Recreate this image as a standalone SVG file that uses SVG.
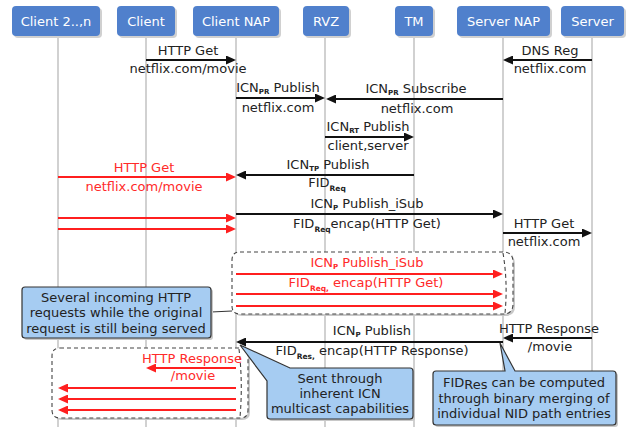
<svg xmlns="http://www.w3.org/2000/svg" width="627" height="427" viewBox="0 0 627 427">
  <defs>
    <style>
      text { font-family: "DejaVu Sans", "Liberation Sans", sans-serif; font-size: 13px; }
      .hd { fill: #5080cc; }
      .hdsh { fill: #d0d0d0; }
      .hdt { fill: #ffffff; text-anchor: middle; }
      .life { stroke: #c6c6c6; stroke-width: 1.6; }
      .lbl { fill: #222222; text-anchor: middle; }
      .rl { fill: #ff2a2a; text-anchor: middle; }
      .msg { stroke: #111111; stroke-width: 2; fill: none; }
      .rmsg { stroke: #ff1f1f; stroke-width: 2; fill: none; }
      .sub { font-size: 7px; font-weight: bold; }
      .sub2 { font-size: 7.5px; font-weight: bold; }
      .note { fill: #a6ccf2; stroke: #333333; stroke-width: 1.2; }
      .nsh { fill: #c8c8c8; }
      .nt { fill: #222222; text-anchor: middle; }
      .grp { fill: #ffffff; stroke: #444444; stroke-width: 1.1; stroke-dasharray: 4 3; }
      .grpin { fill: none; stroke: #444444; stroke-width: 1.1; stroke-dasharray: 4 3; }
    </style>
    <marker id="ah" viewBox="0 0 10 9" refX="8" refY="4.5" markerWidth="10" markerHeight="9" markerUnits="userSpaceOnUse" orient="auto">
      <path d="M0,0 L10,4.5 L0,9 z" fill="#111111"/>
    </marker>
    <marker id="ahr" viewBox="0 0 10 9" refX="8" refY="4.5" markerWidth="10" markerHeight="9" markerUnits="userSpaceOnUse" orient="auto">
      <path d="M0,0 L10,4.5 L0,9 z" fill="#ff1f1f"/>
    </marker>
  </defs>

  <rect width="627" height="427" fill="#ffffff"/>

  <!-- participants: header box + lifeline -->
  <g id="p-client2">
    <line class="life" x1="58" y1="36" x2="58" y2="427"/>
    <rect class="hdsh" x="14" y="8" width="88" height="30" rx="4"/>
    <rect class="hd" x="12" y="6" width="88" height="30" rx="4"/>
    <text class="hdt" x="56" y="26">Client 2..,n</text>
  </g>
  <g id="p-client">
    <line class="life" x1="146" y1="36" x2="146" y2="427"/>
    <rect class="hdsh" x="119" y="8" width="58" height="30" rx="4"/>
    <rect class="hd" x="117" y="6" width="58" height="30" rx="4"/>
    <text class="hdt" x="146" y="26">Client</text>
  </g>
  <g id="p-clientnap">
    <line class="life" x1="236" y1="36" x2="236" y2="427"/>
    <rect class="hdsh" x="195" y="8" width="86" height="30" rx="4"/>
    <rect class="hd" x="193" y="6" width="86" height="30" rx="4"/>
    <text class="hdt" x="236" y="26">Client NAP</text>
  </g>
  <g id="p-rvz">
    <line class="life" x1="325" y1="36" x2="325" y2="427"/>
    <rect class="hdsh" x="305" y="8" width="46" height="30" rx="4"/>
    <rect class="hd" x="303" y="6" width="46" height="30" rx="4"/>
    <text class="hdt" x="326" y="26">RVZ</text>
  </g>
  <g id="p-tm">
    <line class="life" x1="414" y1="36" x2="414" y2="427"/>
    <rect class="hdsh" x="397" y="8" width="38" height="30" rx="4"/>
    <rect class="hd" x="395" y="6" width="38" height="30" rx="4"/>
    <text class="hdt" x="414" y="26">TM</text>
  </g>
  <g id="p-servernap">
    <line class="life" x1="503" y1="36" x2="503" y2="427"/>
    <rect class="hdsh" x="459" y="8" width="93" height="30" rx="4"/>
    <rect class="hd" x="457" y="6" width="93" height="30" rx="4"/>
    <text class="hdt" x="503.5" y="26">Server NAP</text>
  </g>
  <g id="p-server">
    <line class="life" x1="592" y1="36" x2="592" y2="427"/>
    <rect class="hdsh" x="563" y="8" width="63" height="30" rx="4"/>
    <rect class="hd" x="561" y="6" width="63" height="30" rx="4"/>
    <text class="hdt" x="592.5" y="26">Server</text>
  </g>

  <!-- dashed groupings of repeated requests / responses -->
  <g id="grp-requests">
    <path class="nsh" d="M242,254 H505 Q515,254 515,264 V306 Q515,316 505,316 H242 Q234,316 234,308 V262 Q234,254 242,254 Z"/>
    <path class="grp" d="M240,252 H503 Q513,252 513,262 V304 Q513,314 503,314 H240 Q232,314 232,306 V260 Q232,252 240,252 Z"/>
    <path class="grpin" d="M503,253 Q508,283 505,313"/>
  </g>
  <g id="grp-responses">
    <path class="nsh" d="M62,350 H242 Q250,350 250,358 V412 Q250,420 242,420 H62 Q54,420 54,412 V358 Q54,350 62,350 Z"/>
    <path class="grp" d="M60,348 H240 Q248,348 248,356 V410 Q248,418 240,418 H60 Q52,418 52,410 V356 Q52,348 60,348 Z"/>
    <path class="grpin" d="M239,349 Q243,383 240,417"/>
  </g>

  <!-- connectors -->
  <g id="connectors">
    <line class="msg" x1="146" y1="60" x2="234" y2="60" marker-end="url(#ah)"/>
    <line class="msg" x1="592" y1="60" x2="505" y2="60" marker-end="url(#ah)"/>
    <line class="msg" x1="236" y1="98" x2="323" y2="98" marker-end="url(#ah)"/>
    <line class="msg" x1="503" y1="99" x2="328" y2="99" marker-end="url(#ah)"/>
    <line class="msg" x1="325" y1="137" x2="412" y2="137" marker-end="url(#ah)"/>
    <line class="msg" x1="414" y1="175" x2="238" y2="175" marker-end="url(#ah)"/>
    <line class="rmsg" x1="58" y1="177" x2="234" y2="177" marker-end="url(#ahr)"/>
    <line class="msg" x1="236" y1="214" x2="501" y2="214" marker-end="url(#ah)"/>
    <line class="rmsg" x1="58" y1="218" x2="234" y2="218" marker-end="url(#ahr)"/>
    <line class="rmsg" x1="58" y1="229" x2="234" y2="229" marker-end="url(#ahr)"/>
    <line class="msg" x1="503" y1="233" x2="590" y2="233" marker-end="url(#ah)"/>
    <line class="rmsg" x1="236" y1="274" x2="501" y2="274" marker-end="url(#ahr)"/>
    <line class="rmsg" x1="236" y1="294" x2="501" y2="294" marker-end="url(#ahr)"/>
    <line class="rmsg" x1="236" y1="306" x2="501" y2="306" marker-end="url(#ahr)"/>
    <line class="msg" x1="592" y1="338" x2="505" y2="338" marker-end="url(#ah)"/>
    <line class="msg" x1="503" y1="342" x2="238" y2="342" marker-end="url(#ah)"/>
    <line class="rmsg" x1="236" y1="368" x2="148" y2="368" marker-end="url(#ahr)"/>
    <line class="rmsg" x1="236" y1="388" x2="60" y2="388" marker-end="url(#ahr)"/>
    <line class="rmsg" x1="236" y1="399" x2="60" y2="399" marker-end="url(#ahr)"/>
    <line class="rmsg" x1="236" y1="410" x2="60" y2="410" marker-end="url(#ahr)"/>
    <line x1="211" y1="312" x2="232" y2="311" stroke="#333333" stroke-width="1.2"/>
  </g>

  <!-- message labels -->
  <g id="labels">
    <text class="lbl" x="188" y="55">HTTP Get</text>
    <text class="lbl" x="188" y="73">netflix.com/movie</text>

    <text class="lbl" x="550" y="55">DNS Reg</text>
    <text class="lbl" x="550" y="73">netflix.com</text>

    <text class="lbl" x="278" y="92">ICN<tspan class="sub" dy="2">PR</tspan><tspan dy="-2"> Publish</tspan></text>
    <text class="lbl" x="278" y="112">netflix.com</text>

    <text class="lbl" x="416" y="93">ICN<tspan class="sub" dy="2">PR</tspan><tspan dy="-2"> Subscribe</tspan></text>
    <text class="lbl" x="417" y="113">netflix.com</text>

    <text class="lbl" x="368" y="131">ICN<tspan class="sub" dy="2">RT</tspan><tspan dy="-2"> Publish</tspan></text>
    <text class="lbl" x="368" y="150">client,server</text>

    <text class="lbl" x="328" y="169">ICN<tspan class="sub" dy="2">TP</tspan><tspan dy="-2"> Publish</tspan></text>
    <text class="lbl" x="327" y="187">FID<tspan class="sub2" dy="4">Req</tspan></text>

    <text class="rl" x="144" y="172">HTTP Get</text>
    <text class="rl" x="144" y="191">netflix.com/movie</text>

    <text class="lbl" x="367" y="208">ICN<tspan class="sub" dy="2">P</tspan><tspan dy="-2"> Publish_iSub</tspan></text>
    <text class="lbl" x="367" y="228">FID<tspan class="sub2" dy="4">Req</tspan><tspan dy="-4">encap(HTTP Get)</tspan></text>

    <text class="lbl" x="544" y="228">HTTP Get</text>
    <text class="lbl" x="544" y="246">netflix.com</text>

    <text class="rl" x="367" y="267">ICN<tspan class="sub" dy="2">P</tspan><tspan dy="-2"> Publish_iSub</tspan></text>
    <text class="rl" x="366" y="287">FID<tspan class="sub2" dy="4">Req,</tspan><tspan dy="-4"> encap(HTTP Get)</tspan></text>

    <text class="lbl" x="372" y="335">ICN<tspan class="sub" dy="2">P</tspan><tspan dy="-2"> Publish</tspan></text>
    <text class="lbl" x="372" y="355">FID<tspan class="sub2" dy="4">Res,</tspan><tspan dy="-4"> encap(HTTP Response)</tspan></text>

    <text class="lbl" x="549" y="333">HTTP Response</text>
    <text class="lbl" x="550" y="351">/movie</text>

    <text class="rl" x="192" y="363">HTTP Response</text>
    <text class="rl" x="193" y="380">/movie</text>
  </g>

  <!-- notes -->
  <g id="note-incoming">
    <rect class="nsh" x="24" y="289" width="189" height="51" rx="3"/>
    <rect class="note" x="22" y="287" width="189" height="51" rx="3"/>
    <text class="nt" x="116" y="302">Several incoming HTTP</text>
    <text class="nt" x="116" y="317">requests while the original</text>
    <text class="nt" x="116" y="333">request is still being served</text>
  </g>
  <g id="note-multicast">
    <path class="nsh" d="M292,370 H412 Q415,370 415,373 V418 Q415,421 412,421 H272 Q269,421 269,418 V383 Z"/>
    <path class="note" d="M290,368 H410 Q413,368 413,371 V416 Q413,419 410,419 H270 Q267,419 267,416 V381 L240,345 Z"/>
    <text class="nt" x="340" y="383">Sent through</text>
    <text class="nt" x="340" y="398">inherent ICN</text>
    <text class="nt" x="340" y="413">multicast capabilities</text>
  </g>
  <g id="note-fidres">
    <path class="nsh" d="M435,373 H615 Q618,373 618,376 V424 Q618,427 615,427 H438 Q435,427 435,424 Z"/>
    <path class="note" d="M436,371 H505 L500,343 L515,371 H613 Q616,371 616,374 V422 Q616,425 613,425 H436 Q433,425 433,422 V374 Q433,371 436,371 Z"/>
    <text class="nt" x="524" y="387">FID<tspan dy="2">Res</tspan><tspan dy="-2"> can be computed</tspan></text>
    <text class="nt" x="524" y="403">through binary merging of</text>
    <text class="nt" x="524" y="418">individual NID path entries</text>
  </g>
</svg>
